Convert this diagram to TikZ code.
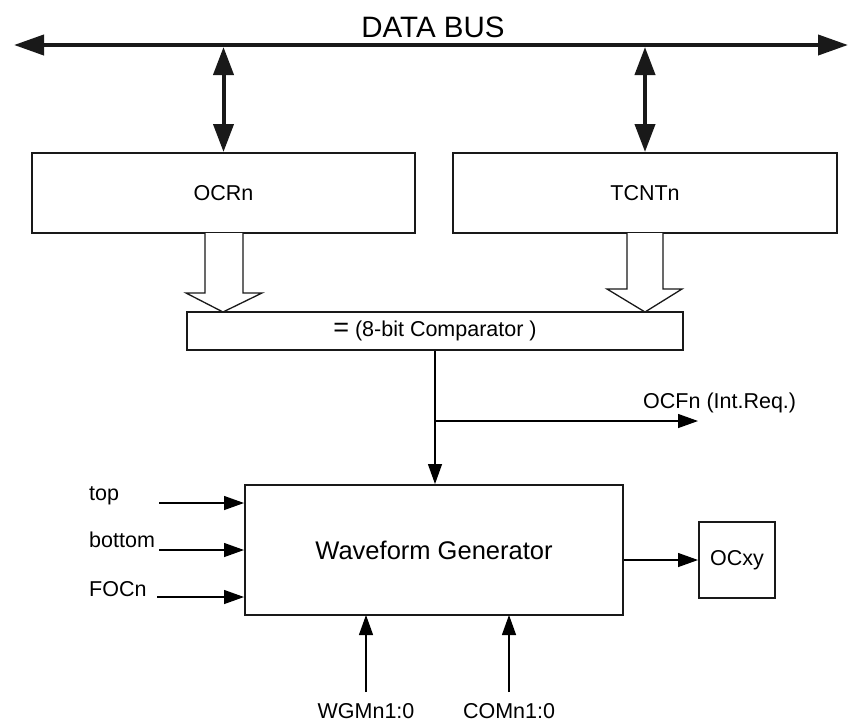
\documentclass[tikz,border=0pt]{standalone}
\usepackage{fontspec}
\setmainfont{Liberation Sans}
\usetikzlibrary{arrows.meta}
\tikzset{
  blk/.style={draw=black!90, line width=2pt, inner sep=0pt, font=\fontsize{21.5}{24}\selectfont},
  lbl/.style={inner sep=0pt, font=\fontsize{21.5}{24}\selectfont},
  busline/.style={line width=4pt, {Triangle[length=30pt,width=20pt]}-{Triangle[length=30pt,width=20pt]}},
  dbl/.style={line width=4pt, {Triangle[length=28pt,width=20pt]}-{Triangle[length=28pt,width=20pt]}},
  sig/.style={line width=1.3pt, -{Triangle[length=20pt,width=14pt]}},
  hollow/.style={draw=black!90, line width=1.3pt, fill=white, line join=miter}
}
\begin{document}
\begin{tikzpicture}[x=1pt,y=-1pt]
\useasboundingbox (0,0) rectangle (848,721);
% bus
\coordinate (busL) at (14,45);
\coordinate (busR) at (848,45);
\draw[busline, draw=black!90] (busL) -- (busR);
\node[lbl, anchor=base, font=\fontsize{29.5}{32}\selectfont] (busLbl) at (433,37) {DATA BUS};
% blocks
\node[blk, minimum width=383pt, minimum height=80pt] (ocr) at (223.5,193) {OCRn};
\node[blk, minimum width=384pt, minimum height=80pt] (tcnt) at (645,193) {TCNTn};
\node[blk, minimum width=496pt, minimum height=38pt] (cmp) at (435,331) {\raisebox{0.5pt}{\fontsize{27}{27}\selectfont =} (8-bit Comparator )};
\node[blk, minimum width=378pt, minimum height=130pt, font=\fontsize{25.5}{28}\selectfont] (wg) at (434,550) {Waveform Generator};
\node[blk, minimum width=76pt, minimum height=76pt] (ocxy) at (737,560) {OCxy};
% bus connections
\draw[dbl, draw=black!90] (ocr.north |- 0,47) -- (ocr.north);
\draw[dbl, draw=black!90] (tcnt.north |- 0,47) -- (tcnt.north);
% hollow arrows
\draw[hollow] (205,233) -- (205,293) -- (186,293) -- (223,312) -- (262,293) -- (243,293) -- (243,233);
\draw[hollow] (627,233) -- (627,289) -- (607,289) -- (645,312) -- (682,289) -- (663,289) -- (663,233);
% comparator outputs
\coordinate (br) at (435,421);
\coordinate (ocf) at (698,421);
\draw[line width=1.3pt] (cmp.south -| br) -- (br);
\draw[sig] (br) -- (wg.north -| br);
\draw[sig] (br) -- (ocf);
\node[lbl, anchor=base west] (ocfLbl) at (643,408) {OCFn (Int.Req.)};
% left inputs
\node[lbl, anchor=base west] (top) at (89,500) {top};
\node[lbl, anchor=base west] (bot) at (89,547) {bottom};
\node[lbl, anchor=base west] (foc) at (89,596) {FOCn};
\coordinate (topS) at (159,503);
\coordinate (botS) at (159,550);
\coordinate (focS) at (157,597);
\draw[sig] (topS) -- (topS -| wg.west);
\draw[sig] (botS) -- (botS -| wg.west);
\draw[sig] (focS) -- (focS -| wg.west);
% output
\draw[sig] (wg.east |- ocxy.west) -- (ocxy.west);
% bottom inputs
\node[lbl, anchor=base] (wgm) at (366,718) {WGMn1:0};
\node[lbl, anchor=base] (com) at (509,718) {COMn1:0};
\draw[sig] (366,692) -- (366,615);
\draw[sig] (509,692) -- (509,615);
\end{tikzpicture}
\end{document}
